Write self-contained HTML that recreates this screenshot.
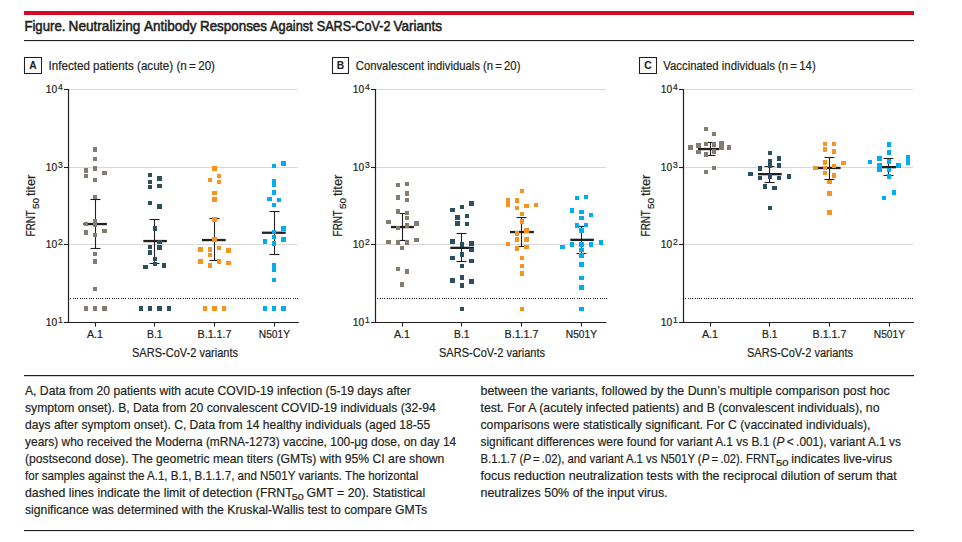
<!DOCTYPE html>
<html><head><meta charset="utf-8"><style>
html,body{margin:0;padding:0;background:#fff;}
svg{display:block;}
text{font-family:"Liberation Sans",sans-serif;fill:#231f20;stroke:#231f20;stroke-width:0.2px;}
</style></head><body>
<svg width="962" height="542" viewBox="0 0 962 542">
<rect x="24" y="11" width="890" height="4" fill="#d50b26"/>
<text x="24.4" y="30.8" font-size="14.2" font-weight="normal" text-anchor="start" textLength="41.0" lengthAdjust="spacingAndGlyphs" style="stroke-width:0.55px">Figure.</text>
<text x="68.6" y="30.8" font-size="14.2" font-weight="normal" text-anchor="start" textLength="71.8" lengthAdjust="spacingAndGlyphs" style="stroke-width:0.55px">Neutralizing</text>
<text x="144.0" y="30.8" font-size="14.2" font-weight="normal" text-anchor="start" textLength="52.4" lengthAdjust="spacingAndGlyphs" style="stroke-width:0.55px">Antibody</text>
<text x="200.0" y="30.8" font-size="14.2" font-weight="normal" text-anchor="start" textLength="67.0" lengthAdjust="spacingAndGlyphs" style="stroke-width:0.55px">Responses</text>
<text x="270.1" y="30.8" font-size="14.2" font-weight="normal" text-anchor="start" textLength="42.6" lengthAdjust="spacingAndGlyphs" style="stroke-width:0.55px">Against</text>
<text x="316.8" y="30.8" font-size="14.2" font-weight="normal" text-anchor="start" textLength="73.6" lengthAdjust="spacingAndGlyphs" style="stroke-width:0.55px">SARS-CoV-2</text>
<text x="393.4" y="30.8" font-size="14.2" font-weight="normal" text-anchor="start" textLength="48.5" lengthAdjust="spacingAndGlyphs" style="stroke-width:0.55px">Variants</text>
<rect x="24" y="40" width="890" height="1.1" fill="#231f20"/>
<rect x="24.5" y="57.5" width="17.0" height="16" fill="none" stroke="#231f20" stroke-width="1.05"/>
<text x="29.3" y="68.9" font-size="11" font-weight="bold" text-anchor="start" textLength="7.4" lengthAdjust="spacingAndGlyphs" style="stroke-width:0.1px">A</text>
<text x="48.5" y="70.3" font-size="12.5" font-weight="normal" text-anchor="start" textLength="166.5" lengthAdjust="spacingAndGlyphs">Infected patients (acute) (n = 20)</text>
<line x1="69.1" y1="89.5" x2="297.7" y2="89.5" stroke="#d9d9d9" stroke-width="1.1"/>
<line x1="69.1" y1="167.5" x2="297.7" y2="167.5" stroke="#d9d9d9" stroke-width="1.1"/>
<line x1="69.1" y1="244.5" x2="297.7" y2="244.5" stroke="#d9d9d9" stroke-width="1.1"/>
<path d="M70 298h1v1h-1zM73 298h1v1h-1zM75 298h1v1h-1zM77 298h1v1h-1zM80 298h1v1h-1zM82 298h1v1h-1zM84 298h1v1h-1zM86 298h1v1h-1zM89 298h1v1h-1zM91 298h1v1h-1zM93 298h1v1h-1zM96 298h1v1h-1zM98 298h1v1h-1zM100 298h1v1h-1zM102 298h1v1h-1zM105 298h1v1h-1zM107 298h1v1h-1zM109 298h1v1h-1zM112 298h1v1h-1zM114 298h1v1h-1zM116 298h1v1h-1zM118 298h1v1h-1zM121 298h1v1h-1zM123 298h1v1h-1zM125 298h1v1h-1zM128 298h1v1h-1zM130 298h1v1h-1zM132 298h1v1h-1zM135 298h1v1h-1zM137 298h1v1h-1zM139 298h1v1h-1zM141 298h1v1h-1zM144 298h1v1h-1zM146 298h1v1h-1zM148 298h1v1h-1zM151 298h1v1h-1zM153 298h1v1h-1zM155 298h1v1h-1zM157 298h1v1h-1zM160 298h1v1h-1zM162 298h1v1h-1zM164 298h1v1h-1zM167 298h1v1h-1zM169 298h1v1h-1zM171 298h1v1h-1zM173 298h1v1h-1zM176 298h1v1h-1zM178 298h1v1h-1zM180 298h1v1h-1zM183 298h1v1h-1zM185 298h1v1h-1zM187 298h1v1h-1zM189 298h1v1h-1zM192 298h1v1h-1zM194 298h1v1h-1zM196 298h1v1h-1zM199 298h1v1h-1zM201 298h1v1h-1zM203 298h1v1h-1zM206 298h1v1h-1zM208 298h1v1h-1zM210 298h1v1h-1zM212 298h1v1h-1zM215 298h1v1h-1zM217 298h1v1h-1zM219 298h1v1h-1zM222 298h1v1h-1zM224 298h1v1h-1zM226 298h1v1h-1zM228 298h1v1h-1zM231 298h1v1h-1zM233 298h1v1h-1zM235 298h1v1h-1zM238 298h1v1h-1zM240 298h1v1h-1zM242 298h1v1h-1zM244 298h1v1h-1zM247 298h1v1h-1zM249 298h1v1h-1zM251 298h1v1h-1zM254 298h1v1h-1zM256 298h1v1h-1zM258 298h1v1h-1zM260 298h1v1h-1zM263 298h1v1h-1zM265 298h1v1h-1zM267 298h1v1h-1zM270 298h1v1h-1zM272 298h1v1h-1zM274 298h1v1h-1zM276 298h1v1h-1zM279 298h1v1h-1zM281 298h1v1h-1zM283 298h1v1h-1zM286 298h1v1h-1zM288 298h1v1h-1zM290 298h1v1h-1zM293 298h1v1h-1zM295 298h1v1h-1zM297 298h1v1h-1z" fill="#1a1a1a"/>
<line x1="68.5" y1="89.0" x2="68.5" y2="323.1" stroke="#231f20" stroke-width="1.2"/>
<line x1="67.9" y1="322.5" x2="298.8" y2="322.5" stroke="#231f20" stroke-width="1.2"/>
<line x1="64.0" y1="89.5" x2="68.5" y2="89.5" stroke="#231f20" stroke-width="1.1"/>
<text x="45.7" y="93.2" font-size="10.5" font-weight="normal" text-anchor="start" textLength="11.4" lengthAdjust="spacingAndGlyphs">10</text>
<text x="57.9" y="90.1" font-size="9.8" font-weight="normal" text-anchor="start" textLength="4.8" lengthAdjust="spacingAndGlyphs">4</text>
<line x1="64.0" y1="167.5" x2="68.5" y2="167.5" stroke="#231f20" stroke-width="1.1"/>
<text x="45.7" y="171.2" font-size="10.5" font-weight="normal" text-anchor="start" textLength="11.4" lengthAdjust="spacingAndGlyphs">10</text>
<text x="57.9" y="168.1" font-size="9.8" font-weight="normal" text-anchor="start" textLength="4.8" lengthAdjust="spacingAndGlyphs">3</text>
<line x1="64.0" y1="244.5" x2="68.5" y2="244.5" stroke="#231f20" stroke-width="1.1"/>
<text x="45.7" y="248.2" font-size="10.5" font-weight="normal" text-anchor="start" textLength="11.4" lengthAdjust="spacingAndGlyphs">10</text>
<text x="57.9" y="245.1" font-size="9.8" font-weight="normal" text-anchor="start" textLength="4.8" lengthAdjust="spacingAndGlyphs">2</text>
<line x1="64.0" y1="322.5" x2="68.5" y2="322.5" stroke="#231f20" stroke-width="1.1"/>
<text x="45.7" y="326.2" font-size="10.5" font-weight="normal" text-anchor="start" textLength="11.4" lengthAdjust="spacingAndGlyphs">10</text>
<text x="57.9" y="323.1" font-size="9.8" font-weight="normal" text-anchor="start" textLength="4.8" lengthAdjust="spacingAndGlyphs">1</text>
<line x1="95.5" y1="322.5" x2="95.5" y2="326.6" stroke="#231f20" stroke-width="1.1"/>
<line x1="154.5" y1="322.5" x2="154.5" y2="326.6" stroke="#231f20" stroke-width="1.1"/>
<line x1="214.5" y1="322.5" x2="214.5" y2="326.6" stroke="#231f20" stroke-width="1.1"/>
<line x1="274.5" y1="322.5" x2="274.5" y2="326.6" stroke="#231f20" stroke-width="1.1"/>
<text x="132.0" y="357.0" font-size="12.5" font-weight="normal" text-anchor="start" textLength="106.0" lengthAdjust="spacingAndGlyphs">SARS-CoV-2 variants</text>
<g transform="translate(35.1,236.4) rotate(-90)"><text x="0.0" y="0.0" font-size="12.5" font-weight="normal" text-anchor="start" textLength="26.3" lengthAdjust="spacingAndGlyphs">FRNT</text><text x="27.3" y="3.5" font-size="9.2" font-weight="normal" text-anchor="start" textLength="11.2" lengthAdjust="spacingAndGlyphs">50</text><text x="40.3" y="0.0" font-size="12.5" font-weight="normal" text-anchor="start" textLength="21.5" lengthAdjust="spacingAndGlyphs">titer</text></g>
<rect x="332.5" y="57.5" width="16.0" height="16" fill="none" stroke="#231f20" stroke-width="1.05"/>
<text x="336.8" y="68.9" font-size="11" font-weight="bold" text-anchor="start" textLength="7.4" lengthAdjust="spacingAndGlyphs" style="stroke-width:0.1px">B</text>
<text x="355.8" y="70.3" font-size="12.5" font-weight="normal" text-anchor="start" textLength="164.6" lengthAdjust="spacingAndGlyphs">Convalescent individuals (n = 20)</text>
<line x1="376.1" y1="89.5" x2="606.0" y2="89.5" stroke="#d9d9d9" stroke-width="1.1"/>
<line x1="376.1" y1="167.5" x2="606.0" y2="167.5" stroke="#d9d9d9" stroke-width="1.1"/>
<line x1="376.1" y1="244.5" x2="606.0" y2="244.5" stroke="#d9d9d9" stroke-width="1.1"/>
<path d="M377 298h1v1h-1zM380 298h1v1h-1zM382 298h1v1h-1zM384 298h1v1h-1zM387 298h1v1h-1zM389 298h1v1h-1zM391 298h1v1h-1zM393 298h1v1h-1zM396 298h1v1h-1zM398 298h1v1h-1zM400 298h1v1h-1zM403 298h1v1h-1zM405 298h1v1h-1zM407 298h1v1h-1zM409 298h1v1h-1zM412 298h1v1h-1zM414 298h1v1h-1zM416 298h1v1h-1zM419 298h1v1h-1zM421 298h1v1h-1zM423 298h1v1h-1zM425 298h1v1h-1zM428 298h1v1h-1zM430 298h1v1h-1zM432 298h1v1h-1zM435 298h1v1h-1zM437 298h1v1h-1zM439 298h1v1h-1zM442 298h1v1h-1zM444 298h1v1h-1zM446 298h1v1h-1zM448 298h1v1h-1zM451 298h1v1h-1zM453 298h1v1h-1zM455 298h1v1h-1zM458 298h1v1h-1zM460 298h1v1h-1zM462 298h1v1h-1zM464 298h1v1h-1zM467 298h1v1h-1zM469 298h1v1h-1zM471 298h1v1h-1zM474 298h1v1h-1zM476 298h1v1h-1zM478 298h1v1h-1zM480 298h1v1h-1zM483 298h1v1h-1zM485 298h1v1h-1zM487 298h1v1h-1zM490 298h1v1h-1zM492 298h1v1h-1zM494 298h1v1h-1zM496 298h1v1h-1zM499 298h1v1h-1zM501 298h1v1h-1zM503 298h1v1h-1zM506 298h1v1h-1zM508 298h1v1h-1zM510 298h1v1h-1zM513 298h1v1h-1zM515 298h1v1h-1zM517 298h1v1h-1zM519 298h1v1h-1zM522 298h1v1h-1zM524 298h1v1h-1zM526 298h1v1h-1zM529 298h1v1h-1zM531 298h1v1h-1zM533 298h1v1h-1zM535 298h1v1h-1zM538 298h1v1h-1zM540 298h1v1h-1zM542 298h1v1h-1zM545 298h1v1h-1zM547 298h1v1h-1zM549 298h1v1h-1zM551 298h1v1h-1zM554 298h1v1h-1zM556 298h1v1h-1zM558 298h1v1h-1zM561 298h1v1h-1zM563 298h1v1h-1zM565 298h1v1h-1zM567 298h1v1h-1zM570 298h1v1h-1zM572 298h1v1h-1zM574 298h1v1h-1zM577 298h1v1h-1zM579 298h1v1h-1zM581 298h1v1h-1zM584 298h1v1h-1zM586 298h1v1h-1zM588 298h1v1h-1zM590 298h1v1h-1zM593 298h1v1h-1zM595 298h1v1h-1zM597 298h1v1h-1zM600 298h1v1h-1zM602 298h1v1h-1zM604 298h1v1h-1zM606 298h1v1h-1z" fill="#1a1a1a"/>
<line x1="375.5" y1="89.0" x2="375.5" y2="323.1" stroke="#231f20" stroke-width="1.2"/>
<line x1="374.9" y1="322.5" x2="606.5" y2="322.5" stroke="#231f20" stroke-width="1.2"/>
<line x1="371.0" y1="89.5" x2="375.5" y2="89.5" stroke="#231f20" stroke-width="1.1"/>
<text x="352.7" y="93.2" font-size="10.5" font-weight="normal" text-anchor="start" textLength="11.4" lengthAdjust="spacingAndGlyphs">10</text>
<text x="364.9" y="90.1" font-size="9.8" font-weight="normal" text-anchor="start" textLength="4.8" lengthAdjust="spacingAndGlyphs">4</text>
<line x1="371.0" y1="167.5" x2="375.5" y2="167.5" stroke="#231f20" stroke-width="1.1"/>
<text x="352.7" y="171.2" font-size="10.5" font-weight="normal" text-anchor="start" textLength="11.4" lengthAdjust="spacingAndGlyphs">10</text>
<text x="364.9" y="168.1" font-size="9.8" font-weight="normal" text-anchor="start" textLength="4.8" lengthAdjust="spacingAndGlyphs">3</text>
<line x1="371.0" y1="244.5" x2="375.5" y2="244.5" stroke="#231f20" stroke-width="1.1"/>
<text x="352.7" y="248.2" font-size="10.5" font-weight="normal" text-anchor="start" textLength="11.4" lengthAdjust="spacingAndGlyphs">10</text>
<text x="364.9" y="245.1" font-size="9.8" font-weight="normal" text-anchor="start" textLength="4.8" lengthAdjust="spacingAndGlyphs">2</text>
<line x1="371.0" y1="322.5" x2="375.5" y2="322.5" stroke="#231f20" stroke-width="1.1"/>
<text x="352.7" y="326.2" font-size="10.5" font-weight="normal" text-anchor="start" textLength="11.4" lengthAdjust="spacingAndGlyphs">10</text>
<text x="364.9" y="323.1" font-size="9.8" font-weight="normal" text-anchor="start" textLength="4.8" lengthAdjust="spacingAndGlyphs">1</text>
<line x1="402.5" y1="322.5" x2="402.5" y2="326.6" stroke="#231f20" stroke-width="1.1"/>
<line x1="461.5" y1="322.5" x2="461.5" y2="326.6" stroke="#231f20" stroke-width="1.1"/>
<line x1="521.5" y1="322.5" x2="521.5" y2="326.6" stroke="#231f20" stroke-width="1.1"/>
<line x1="581.5" y1="322.5" x2="581.5" y2="326.6" stroke="#231f20" stroke-width="1.1"/>
<text x="439.0" y="357.0" font-size="12.5" font-weight="normal" text-anchor="start" textLength="106.0" lengthAdjust="spacingAndGlyphs">SARS-CoV-2 variants</text>
<g transform="translate(342.1,236.4) rotate(-90)"><text x="0.0" y="0.0" font-size="12.5" font-weight="normal" text-anchor="start" textLength="26.3" lengthAdjust="spacingAndGlyphs">FRNT</text><text x="27.3" y="3.5" font-size="9.2" font-weight="normal" text-anchor="start" textLength="11.2" lengthAdjust="spacingAndGlyphs">50</text><text x="40.3" y="0.0" font-size="12.5" font-weight="normal" text-anchor="start" textLength="21.5" lengthAdjust="spacingAndGlyphs">titer</text></g>
<rect x="639.5" y="57.5" width="17.0" height="16" fill="none" stroke="#231f20" stroke-width="1.05"/>
<text x="644.3" y="68.9" font-size="11" font-weight="bold" text-anchor="start" textLength="7.4" lengthAdjust="spacingAndGlyphs" style="stroke-width:0.1px">C</text>
<text x="663.3" y="70.3" font-size="12.5" font-weight="normal" text-anchor="start" textLength="152.4" lengthAdjust="spacingAndGlyphs">Vaccinated individuals (n = 14)</text>
<line x1="684.1" y1="89.5" x2="913.0" y2="89.5" stroke="#d9d9d9" stroke-width="1.1"/>
<line x1="684.1" y1="167.5" x2="913.0" y2="167.5" stroke="#d9d9d9" stroke-width="1.1"/>
<line x1="684.1" y1="244.5" x2="913.0" y2="244.5" stroke="#d9d9d9" stroke-width="1.1"/>
<path d="M685 298h1v1h-1zM688 298h1v1h-1zM690 298h1v1h-1zM692 298h1v1h-1zM695 298h1v1h-1zM697 298h1v1h-1zM699 298h1v1h-1zM701 298h1v1h-1zM704 298h1v1h-1zM706 298h1v1h-1zM708 298h1v1h-1zM711 298h1v1h-1zM713 298h1v1h-1zM715 298h1v1h-1zM717 298h1v1h-1zM720 298h1v1h-1zM722 298h1v1h-1zM724 298h1v1h-1zM727 298h1v1h-1zM729 298h1v1h-1zM731 298h1v1h-1zM733 298h1v1h-1zM736 298h1v1h-1zM738 298h1v1h-1zM740 298h1v1h-1zM743 298h1v1h-1zM745 298h1v1h-1zM747 298h1v1h-1zM750 298h1v1h-1zM752 298h1v1h-1zM754 298h1v1h-1zM756 298h1v1h-1zM759 298h1v1h-1zM761 298h1v1h-1zM763 298h1v1h-1zM766 298h1v1h-1zM768 298h1v1h-1zM770 298h1v1h-1zM772 298h1v1h-1zM775 298h1v1h-1zM777 298h1v1h-1zM779 298h1v1h-1zM782 298h1v1h-1zM784 298h1v1h-1zM786 298h1v1h-1zM788 298h1v1h-1zM791 298h1v1h-1zM793 298h1v1h-1zM795 298h1v1h-1zM798 298h1v1h-1zM800 298h1v1h-1zM802 298h1v1h-1zM804 298h1v1h-1zM807 298h1v1h-1zM809 298h1v1h-1zM811 298h1v1h-1zM814 298h1v1h-1zM816 298h1v1h-1zM818 298h1v1h-1zM821 298h1v1h-1zM823 298h1v1h-1zM825 298h1v1h-1zM827 298h1v1h-1zM830 298h1v1h-1zM832 298h1v1h-1zM834 298h1v1h-1zM837 298h1v1h-1zM839 298h1v1h-1zM841 298h1v1h-1zM843 298h1v1h-1zM846 298h1v1h-1zM848 298h1v1h-1zM850 298h1v1h-1zM853 298h1v1h-1zM855 298h1v1h-1zM857 298h1v1h-1zM859 298h1v1h-1zM862 298h1v1h-1zM864 298h1v1h-1zM866 298h1v1h-1zM869 298h1v1h-1zM871 298h1v1h-1zM873 298h1v1h-1zM875 298h1v1h-1zM878 298h1v1h-1zM880 298h1v1h-1zM882 298h1v1h-1zM885 298h1v1h-1zM887 298h1v1h-1zM889 298h1v1h-1zM892 298h1v1h-1zM894 298h1v1h-1zM896 298h1v1h-1zM898 298h1v1h-1zM901 298h1v1h-1zM903 298h1v1h-1zM905 298h1v1h-1zM908 298h1v1h-1zM910 298h1v1h-1zM912 298h1v1h-1z" fill="#1a1a1a"/>
<line x1="683.5" y1="89.0" x2="683.5" y2="323.1" stroke="#231f20" stroke-width="1.2"/>
<line x1="682.9" y1="322.5" x2="914.0" y2="322.5" stroke="#231f20" stroke-width="1.2"/>
<line x1="679.0" y1="89.5" x2="683.5" y2="89.5" stroke="#231f20" stroke-width="1.1"/>
<text x="660.7" y="93.2" font-size="10.5" font-weight="normal" text-anchor="start" textLength="11.4" lengthAdjust="spacingAndGlyphs">10</text>
<text x="672.9" y="90.1" font-size="9.8" font-weight="normal" text-anchor="start" textLength="4.8" lengthAdjust="spacingAndGlyphs">4</text>
<line x1="679.0" y1="167.5" x2="683.5" y2="167.5" stroke="#231f20" stroke-width="1.1"/>
<text x="660.7" y="171.2" font-size="10.5" font-weight="normal" text-anchor="start" textLength="11.4" lengthAdjust="spacingAndGlyphs">10</text>
<text x="672.9" y="168.1" font-size="9.8" font-weight="normal" text-anchor="start" textLength="4.8" lengthAdjust="spacingAndGlyphs">3</text>
<line x1="679.0" y1="244.5" x2="683.5" y2="244.5" stroke="#231f20" stroke-width="1.1"/>
<text x="660.7" y="248.2" font-size="10.5" font-weight="normal" text-anchor="start" textLength="11.4" lengthAdjust="spacingAndGlyphs">10</text>
<text x="672.9" y="245.1" font-size="9.8" font-weight="normal" text-anchor="start" textLength="4.8" lengthAdjust="spacingAndGlyphs">2</text>
<line x1="679.0" y1="322.5" x2="683.5" y2="322.5" stroke="#231f20" stroke-width="1.1"/>
<text x="660.7" y="326.2" font-size="10.5" font-weight="normal" text-anchor="start" textLength="11.4" lengthAdjust="spacingAndGlyphs">10</text>
<text x="672.9" y="323.1" font-size="9.8" font-weight="normal" text-anchor="start" textLength="4.8" lengthAdjust="spacingAndGlyphs">1</text>
<line x1="710.5" y1="322.5" x2="710.5" y2="326.6" stroke="#231f20" stroke-width="1.1"/>
<line x1="769.5" y1="322.5" x2="769.5" y2="326.6" stroke="#231f20" stroke-width="1.1"/>
<line x1="829.5" y1="322.5" x2="829.5" y2="326.6" stroke="#231f20" stroke-width="1.1"/>
<line x1="889.5" y1="322.5" x2="889.5" y2="326.6" stroke="#231f20" stroke-width="1.1"/>
<text x="747.0" y="357.0" font-size="12.5" font-weight="normal" text-anchor="start" textLength="106.0" lengthAdjust="spacingAndGlyphs">SARS-CoV-2 variants</text>
<g transform="translate(650.1,236.4) rotate(-90)"><text x="0.0" y="0.0" font-size="12.5" font-weight="normal" text-anchor="start" textLength="26.3" lengthAdjust="spacingAndGlyphs">FRNT</text><text x="27.3" y="3.5" font-size="9.2" font-weight="normal" text-anchor="start" textLength="11.2" lengthAdjust="spacingAndGlyphs">50</text><text x="40.3" y="0.0" font-size="12.5" font-weight="normal" text-anchor="start" textLength="21.5" lengthAdjust="spacingAndGlyphs">titer</text></g>
<text x="87.0" y="338.0" font-size="11" font-weight="normal" text-anchor="start" textLength="16.0" lengthAdjust="spacingAndGlyphs">A.1</text>
<text x="147.0" y="338.0" font-size="11" font-weight="normal" text-anchor="start" textLength="15.5" lengthAdjust="spacingAndGlyphs">B.1</text>
<text x="197.5" y="338.0" font-size="11" font-weight="normal" text-anchor="start" textLength="34.0" lengthAdjust="spacingAndGlyphs">B.1.1.7</text>
<text x="258.8" y="338.0" font-size="11" font-weight="normal" text-anchor="start" textLength="31.2" lengthAdjust="spacingAndGlyphs">N501Y</text>
<text x="394.0" y="338.0" font-size="11" font-weight="normal" text-anchor="start" textLength="16.0" lengthAdjust="spacingAndGlyphs">A.1</text>
<text x="454.0" y="338.0" font-size="11" font-weight="normal" text-anchor="start" textLength="15.5" lengthAdjust="spacingAndGlyphs">B.1</text>
<text x="504.5" y="338.0" font-size="11" font-weight="normal" text-anchor="start" textLength="34.0" lengthAdjust="spacingAndGlyphs">B.1.1.7</text>
<text x="565.8" y="338.0" font-size="11" font-weight="normal" text-anchor="start" textLength="31.2" lengthAdjust="spacingAndGlyphs">N501Y</text>
<text x="702.0" y="338.0" font-size="11" font-weight="normal" text-anchor="start" textLength="16.0" lengthAdjust="spacingAndGlyphs">A.1</text>
<text x="762.0" y="338.0" font-size="11" font-weight="normal" text-anchor="start" textLength="15.5" lengthAdjust="spacingAndGlyphs">B.1</text>
<text x="812.5" y="338.0" font-size="11" font-weight="normal" text-anchor="start" textLength="34.0" lengthAdjust="spacingAndGlyphs">B.1.1.7</text>
<text x="873.8" y="338.0" font-size="11" font-weight="normal" text-anchor="start" textLength="31.2" lengthAdjust="spacingAndGlyphs">N501Y</text>
<line x1="95.5" y1="199.5" x2="95.5" y2="248.5" stroke="#231f20" stroke-width="1.1"/>
<line x1="90.5" y1="199.5" x2="100.5" y2="199.5" stroke="#231f20" stroke-width="1.1"/>
<line x1="90.5" y1="248.5" x2="100.5" y2="248.5" stroke="#231f20" stroke-width="1.1"/>
<rect x="83.3" y="222.9" width="23.6" height="2.3" fill="#231f20"/>
<line x1="154.5" y1="219.5" x2="154.5" y2="263.5" stroke="#231f20" stroke-width="1.1"/>
<line x1="149.5" y1="219.5" x2="159.5" y2="219.5" stroke="#231f20" stroke-width="1.1"/>
<line x1="149.5" y1="263.5" x2="159.5" y2="263.5" stroke="#231f20" stroke-width="1.1"/>
<rect x="143.3" y="239.9" width="23.6" height="2.3" fill="#231f20"/>
<line x1="214.5" y1="218.5" x2="214.5" y2="260.5" stroke="#231f20" stroke-width="1.1"/>
<line x1="209.5" y1="218.5" x2="219.5" y2="218.5" stroke="#231f20" stroke-width="1.1"/>
<line x1="209.5" y1="260.5" x2="219.5" y2="260.5" stroke="#231f20" stroke-width="1.1"/>
<rect x="202.0" y="238.9" width="23.7" height="2.3" fill="#231f20"/>
<line x1="274.5" y1="211.5" x2="274.5" y2="254.5" stroke="#231f20" stroke-width="1.1"/>
<line x1="269.5" y1="211.5" x2="279.5" y2="211.5" stroke="#231f20" stroke-width="1.1"/>
<line x1="269.5" y1="254.5" x2="279.5" y2="254.5" stroke="#231f20" stroke-width="1.1"/>
<rect x="262.0" y="231.6" width="23.7" height="2.3" fill="#231f20"/>
<line x1="402.5" y1="213.5" x2="402.5" y2="240.5" stroke="#231f20" stroke-width="1.1"/>
<line x1="397.5" y1="213.5" x2="407.5" y2="213.5" stroke="#231f20" stroke-width="1.1"/>
<line x1="397.5" y1="240.5" x2="407.5" y2="240.5" stroke="#231f20" stroke-width="1.1"/>
<rect x="391.0" y="225.9" width="22.9" height="2.3" fill="#231f20"/>
<line x1="461.5" y1="233.5" x2="461.5" y2="261.5" stroke="#231f20" stroke-width="1.1"/>
<line x1="456.5" y1="233.5" x2="466.5" y2="233.5" stroke="#231f20" stroke-width="1.1"/>
<line x1="456.5" y1="261.5" x2="466.5" y2="261.5" stroke="#231f20" stroke-width="1.1"/>
<rect x="450.3" y="246.7" width="23.6" height="2.3" fill="#231f20"/>
<line x1="521.5" y1="217.5" x2="521.5" y2="246.5" stroke="#231f20" stroke-width="1.1"/>
<line x1="516.5" y1="217.5" x2="526.5" y2="217.5" stroke="#231f20" stroke-width="1.1"/>
<line x1="516.5" y1="246.5" x2="526.5" y2="246.5" stroke="#231f20" stroke-width="1.1"/>
<rect x="510.0" y="230.9" width="23.9" height="2.3" fill="#231f20"/>
<line x1="581.5" y1="226.5" x2="581.5" y2="253.5" stroke="#231f20" stroke-width="1.1"/>
<line x1="576.5" y1="226.5" x2="586.5" y2="226.5" stroke="#231f20" stroke-width="1.1"/>
<line x1="576.5" y1="253.5" x2="586.5" y2="253.5" stroke="#231f20" stroke-width="1.1"/>
<rect x="570.3" y="238.7" width="23.6" height="2.3" fill="#231f20"/>
<line x1="710.5" y1="142.5" x2="710.5" y2="155.5" stroke="#231f20" stroke-width="1.1"/>
<line x1="705.5" y1="142.5" x2="715.5" y2="142.5" stroke="#231f20" stroke-width="1.1"/>
<line x1="705.5" y1="155.5" x2="715.5" y2="155.5" stroke="#231f20" stroke-width="1.1"/>
<rect x="698.0" y="147.9" width="21.0" height="2.3" fill="#231f20"/>
<line x1="769.5" y1="166.5" x2="769.5" y2="182.5" stroke="#231f20" stroke-width="1.1"/>
<line x1="764.5" y1="166.5" x2="774.5" y2="166.5" stroke="#231f20" stroke-width="1.1"/>
<line x1="764.5" y1="182.5" x2="774.5" y2="182.5" stroke="#231f20" stroke-width="1.1"/>
<rect x="758.0" y="173.0" width="23.7" height="2.3" fill="#231f20"/>
<line x1="829.5" y1="157.5" x2="829.5" y2="179.5" stroke="#231f20" stroke-width="1.1"/>
<line x1="824.5" y1="157.5" x2="834.5" y2="157.5" stroke="#231f20" stroke-width="1.1"/>
<line x1="824.5" y1="179.5" x2="834.5" y2="179.5" stroke="#231f20" stroke-width="1.1"/>
<rect x="818.0" y="166.8" width="22.6" height="2.3" fill="#231f20"/>
<line x1="888.5" y1="158.5" x2="888.5" y2="175.5" stroke="#231f20" stroke-width="1.1"/>
<line x1="883.5" y1="158.5" x2="893.5" y2="158.5" stroke="#231f20" stroke-width="1.1"/>
<line x1="883.5" y1="175.5" x2="893.5" y2="175.5" stroke="#231f20" stroke-width="1.1"/>
<rect x="881.7" y="166.0" width="14.3" height="2.3" fill="#231f20"/>
<rect x="93" y="147" width="4" height="5" fill="#847d6f"/>
<rect x="93" y="157" width="4" height="4" fill="#847d6f"/>
<rect x="93" y="166" width="4" height="5" fill="#847d6f"/>
<rect x="84" y="168" width="4" height="5" fill="#847d6f"/>
<rect x="84" y="174" width="4" height="4" fill="#847d6f"/>
<rect x="102" y="171" width="5" height="4" fill="#847d6f"/>
<rect x="93" y="178" width="4" height="4" fill="#847d6f"/>
<rect x="93" y="195" width="4" height="4" fill="#847d6f"/>
<rect x="84" y="222" width="4" height="4" fill="#847d6f"/>
<rect x="93" y="219" width="4" height="4" fill="#847d6f"/>
<rect x="93" y="222" width="4" height="5" fill="#847d6f"/>
<rect x="84" y="230" width="4" height="5" fill="#847d6f"/>
<rect x="102" y="229" width="5" height="4" fill="#847d6f"/>
<rect x="93" y="233" width="4" height="4" fill="#847d6f"/>
<rect x="93" y="252" width="4" height="4" fill="#847d6f"/>
<rect x="93" y="259" width="4" height="5" fill="#847d6f"/>
<rect x="93" y="287" width="4" height="4" fill="#847d6f"/>
<rect x="84" y="306" width="4" height="5" fill="#847d6f"/>
<rect x="93" y="306" width="4" height="5" fill="#847d6f"/>
<rect x="102" y="306" width="5" height="5" fill="#847d6f"/>
<rect x="148" y="173" width="4" height="4" fill="#2a4f5e"/>
<rect x="157" y="176" width="5" height="5" fill="#2a4f5e"/>
<rect x="148" y="180" width="4" height="4" fill="#2a4f5e"/>
<rect x="148" y="185" width="4" height="4" fill="#2a4f5e"/>
<rect x="157" y="184" width="5" height="4" fill="#2a4f5e"/>
<rect x="148" y="201" width="4" height="4" fill="#2a4f5e"/>
<rect x="157" y="204" width="5" height="5" fill="#2a4f5e"/>
<rect x="153" y="226" width="4" height="5" fill="#2a4f5e"/>
<rect x="157" y="240" width="5" height="4" fill="#2a4f5e"/>
<rect x="157" y="245" width="5" height="5" fill="#2a4f5e"/>
<rect x="148" y="245" width="4" height="4" fill="#2a4f5e"/>
<rect x="148" y="250" width="4" height="5" fill="#2a4f5e"/>
<rect x="153" y="257" width="4" height="4" fill="#2a4f5e"/>
<rect x="153" y="262" width="4" height="4" fill="#2a4f5e"/>
<rect x="143" y="265" width="5" height="4" fill="#2a4f5e"/>
<rect x="162" y="263" width="4" height="5" fill="#2a4f5e"/>
<rect x="139" y="306" width="4" height="5" fill="#2a4f5e"/>
<rect x="148" y="306" width="4" height="5" fill="#2a4f5e"/>
<rect x="157" y="306" width="5" height="5" fill="#2a4f5e"/>
<rect x="167" y="306" width="4" height="5" fill="#2a4f5e"/>
<rect x="212" y="166" width="5" height="5" fill="#f7941d"/>
<rect x="217" y="174" width="4" height="4" fill="#f7941d"/>
<rect x="208" y="178" width="4" height="4" fill="#f7941d"/>
<rect x="217" y="180" width="4" height="4" fill="#f7941d"/>
<rect x="212" y="191" width="5" height="4" fill="#f7941d"/>
<rect x="212" y="197" width="5" height="5" fill="#f7941d"/>
<rect x="212" y="217" width="5" height="5" fill="#f7941d"/>
<rect x="212" y="237" width="5" height="5" fill="#f7941d"/>
<rect x="198" y="247" width="5" height="5" fill="#f7941d"/>
<rect x="208" y="247" width="4" height="5" fill="#f7941d"/>
<rect x="217" y="246" width="4" height="4" fill="#f7941d"/>
<rect x="226" y="248" width="5" height="5" fill="#f7941d"/>
<rect x="208" y="253" width="4" height="4" fill="#f7941d"/>
<rect x="198" y="259" width="5" height="5" fill="#f7941d"/>
<rect x="217" y="259" width="4" height="5" fill="#f7941d"/>
<rect x="226" y="261" width="5" height="4" fill="#f7941d"/>
<rect x="208" y="263" width="4" height="5" fill="#f7941d"/>
<rect x="203" y="306" width="4" height="5" fill="#f7941d"/>
<rect x="212" y="306" width="5" height="5" fill="#f7941d"/>
<rect x="222" y="306" width="4" height="5" fill="#f7941d"/>
<rect x="272" y="164" width="4" height="4" fill="#00aeef"/>
<rect x="281" y="161" width="5" height="5" fill="#00aeef"/>
<rect x="272" y="179" width="4" height="4" fill="#00aeef"/>
<rect x="272" y="183" width="4" height="4" fill="#00aeef"/>
<rect x="272" y="190" width="4" height="5" fill="#00aeef"/>
<rect x="267" y="197" width="5" height="4" fill="#00aeef"/>
<rect x="277" y="198" width="4" height="4" fill="#00aeef"/>
<rect x="272" y="203" width="4" height="4" fill="#00aeef"/>
<rect x="281" y="226" width="5" height="5" fill="#00aeef"/>
<rect x="272" y="230" width="4" height="4" fill="#00aeef"/>
<rect x="272" y="235" width="4" height="4" fill="#00aeef"/>
<rect x="263" y="239" width="4" height="5" fill="#00aeef"/>
<rect x="281" y="237" width="5" height="5" fill="#00aeef"/>
<rect x="272" y="241" width="4" height="5" fill="#00aeef"/>
<rect x="272" y="263" width="4" height="5" fill="#00aeef"/>
<rect x="272" y="267" width="4" height="5" fill="#00aeef"/>
<rect x="272" y="278" width="4" height="4" fill="#00aeef"/>
<rect x="263" y="306" width="4" height="5" fill="#00aeef"/>
<rect x="272" y="306" width="4" height="5" fill="#00aeef"/>
<rect x="281" y="306" width="5" height="5" fill="#00aeef"/>
<rect x="396" y="183" width="4" height="4" fill="#847d6f"/>
<rect x="405" y="182" width="4" height="4" fill="#847d6f"/>
<rect x="396" y="195" width="4" height="5" fill="#847d6f"/>
<rect x="405" y="191" width="4" height="5" fill="#847d6f"/>
<rect x="405" y="198" width="4" height="4" fill="#847d6f"/>
<rect x="396" y="209" width="4" height="5" fill="#847d6f"/>
<rect x="405" y="211" width="4" height="4" fill="#847d6f"/>
<rect x="405" y="216" width="4" height="4" fill="#847d6f"/>
<rect x="386" y="220" width="5" height="4" fill="#847d6f"/>
<rect x="414" y="221" width="5" height="5" fill="#847d6f"/>
<rect x="396" y="226" width="4" height="4" fill="#847d6f"/>
<rect x="405" y="223" width="4" height="5" fill="#847d6f"/>
<rect x="386" y="240" width="5" height="4" fill="#847d6f"/>
<rect x="396" y="240" width="4" height="5" fill="#847d6f"/>
<rect x="405" y="240" width="4" height="5" fill="#847d6f"/>
<rect x="414" y="238" width="5" height="4" fill="#847d6f"/>
<rect x="400" y="246" width="4" height="4" fill="#847d6f"/>
<rect x="396" y="267" width="4" height="4" fill="#847d6f"/>
<rect x="405" y="269" width="4" height="5" fill="#847d6f"/>
<rect x="400" y="282" width="4" height="5" fill="#847d6f"/>
<rect x="469" y="201" width="5" height="5" fill="#2a4f5e"/>
<rect x="460" y="205" width="4" height="4" fill="#2a4f5e"/>
<rect x="450" y="208" width="5" height="4" fill="#2a4f5e"/>
<rect x="455" y="215" width="5" height="5" fill="#2a4f5e"/>
<rect x="465" y="214" width="4" height="4" fill="#2a4f5e"/>
<rect x="455" y="221" width="5" height="5" fill="#2a4f5e"/>
<rect x="465" y="222" width="4" height="4" fill="#2a4f5e"/>
<rect x="450" y="239" width="5" height="5" fill="#2a4f5e"/>
<rect x="460" y="242" width="4" height="5" fill="#2a4f5e"/>
<rect x="469" y="241" width="5" height="5" fill="#2a4f5e"/>
<rect x="469" y="248" width="5" height="4" fill="#2a4f5e"/>
<rect x="460" y="252" width="4" height="5" fill="#2a4f5e"/>
<rect x="450" y="256" width="5" height="4" fill="#2a4f5e"/>
<rect x="469" y="259" width="5" height="4" fill="#2a4f5e"/>
<rect x="460" y="264" width="4" height="4" fill="#2a4f5e"/>
<rect x="450" y="278" width="5" height="5" fill="#2a4f5e"/>
<rect x="460" y="275" width="4" height="5" fill="#2a4f5e"/>
<rect x="469" y="279" width="5" height="5" fill="#2a4f5e"/>
<rect x="460" y="283" width="4" height="5" fill="#2a4f5e"/>
<rect x="460" y="307" width="4" height="4" fill="#2a4f5e"/>
<rect x="520" y="189" width="4" height="4" fill="#f7941d"/>
<rect x="506" y="198" width="4" height="5" fill="#f7941d"/>
<rect x="506" y="202" width="4" height="5" fill="#f7941d"/>
<rect x="515" y="198" width="4" height="5" fill="#f7941d"/>
<rect x="524" y="204" width="5" height="4" fill="#f7941d"/>
<rect x="534" y="203" width="4" height="4" fill="#f7941d"/>
<rect x="515" y="206" width="4" height="4" fill="#f7941d"/>
<rect x="520" y="212" width="4" height="4" fill="#f7941d"/>
<rect x="520" y="219" width="4" height="5" fill="#f7941d"/>
<rect x="524" y="228" width="5" height="5" fill="#f7941d"/>
<rect x="515" y="231" width="4" height="5" fill="#f7941d"/>
<rect x="515" y="237" width="4" height="5" fill="#f7941d"/>
<rect x="524" y="237" width="5" height="5" fill="#f7941d"/>
<rect x="506" y="242" width="4" height="4" fill="#f7941d"/>
<rect x="515" y="246" width="4" height="5" fill="#f7941d"/>
<rect x="524" y="245" width="5" height="4" fill="#f7941d"/>
<rect x="520" y="256" width="4" height="4" fill="#f7941d"/>
<rect x="520" y="264" width="4" height="4" fill="#f7941d"/>
<rect x="520" y="271" width="4" height="5" fill="#f7941d"/>
<rect x="520" y="307" width="4" height="4" fill="#f7941d"/>
<rect x="575" y="196" width="4" height="4" fill="#00aeef"/>
<rect x="584" y="195" width="4" height="4" fill="#00aeef"/>
<rect x="570" y="208" width="4" height="5" fill="#00aeef"/>
<rect x="579" y="210" width="5" height="4" fill="#00aeef"/>
<rect x="589" y="213" width="4" height="4" fill="#00aeef"/>
<rect x="579" y="216" width="5" height="4" fill="#00aeef"/>
<rect x="575" y="223" width="4" height="5" fill="#00aeef"/>
<rect x="584" y="223" width="4" height="4" fill="#00aeef"/>
<rect x="579" y="228" width="5" height="5" fill="#00aeef"/>
<rect x="560" y="245" width="5" height="4" fill="#00aeef"/>
<rect x="570" y="242" width="4" height="5" fill="#00aeef"/>
<rect x="579" y="242" width="5" height="5" fill="#00aeef"/>
<rect x="589" y="242" width="4" height="5" fill="#00aeef"/>
<rect x="599" y="240" width="4" height="5" fill="#00aeef"/>
<rect x="579" y="248" width="5" height="4" fill="#00aeef"/>
<rect x="579" y="253" width="5" height="5" fill="#00aeef"/>
<rect x="579" y="262" width="5" height="5" fill="#00aeef"/>
<rect x="579" y="276" width="5" height="4" fill="#00aeef"/>
<rect x="579" y="285" width="5" height="5" fill="#00aeef"/>
<rect x="579" y="307" width="5" height="4" fill="#00aeef"/>
<rect x="704" y="127" width="4" height="4" fill="#847d6f"/>
<rect x="712" y="132" width="4" height="4" fill="#847d6f"/>
<rect x="688" y="145" width="5" height="5" fill="#847d6f"/>
<rect x="696" y="143" width="5" height="5" fill="#847d6f"/>
<rect x="696" y="150" width="5" height="4" fill="#847d6f"/>
<rect x="704" y="142" width="4" height="4" fill="#847d6f"/>
<rect x="712" y="142" width="4" height="5" fill="#847d6f"/>
<rect x="719" y="141" width="5" height="5" fill="#847d6f"/>
<rect x="719" y="146" width="5" height="4" fill="#847d6f"/>
<rect x="727" y="145" width="4" height="5" fill="#847d6f"/>
<rect x="712" y="149" width="4" height="5" fill="#847d6f"/>
<rect x="704" y="152" width="4" height="5" fill="#847d6f"/>
<rect x="712" y="166" width="4" height="4" fill="#847d6f"/>
<rect x="704" y="170" width="4" height="4" fill="#847d6f"/>
<rect x="768" y="151" width="4" height="4" fill="#2a4f5e"/>
<rect x="777" y="156" width="4" height="5" fill="#2a4f5e"/>
<rect x="768" y="159" width="4" height="5" fill="#2a4f5e"/>
<rect x="768" y="163" width="4" height="5" fill="#2a4f5e"/>
<rect x="777" y="163" width="4" height="5" fill="#2a4f5e"/>
<rect x="758" y="166" width="4" height="5" fill="#2a4f5e"/>
<rect x="748" y="172" width="5" height="4" fill="#2a4f5e"/>
<rect x="768" y="174" width="4" height="5" fill="#2a4f5e"/>
<rect x="758" y="176" width="4" height="4" fill="#2a4f5e"/>
<rect x="777" y="176" width="4" height="4" fill="#2a4f5e"/>
<rect x="787" y="174" width="4" height="5" fill="#2a4f5e"/>
<rect x="763" y="184" width="4" height="5" fill="#2a4f5e"/>
<rect x="772" y="186" width="5" height="4" fill="#2a4f5e"/>
<rect x="768" y="206" width="4" height="4" fill="#2a4f5e"/>
<rect x="823" y="142" width="4" height="4" fill="#f7941d"/>
<rect x="832" y="142" width="4" height="4" fill="#f7941d"/>
<rect x="823" y="147" width="4" height="5" fill="#f7941d"/>
<rect x="832" y="149" width="4" height="5" fill="#f7941d"/>
<rect x="823" y="160" width="4" height="5" fill="#f7941d"/>
<rect x="841" y="161" width="5" height="4" fill="#f7941d"/>
<rect x="832" y="164" width="4" height="4" fill="#f7941d"/>
<rect x="813" y="166" width="5" height="4" fill="#f7941d"/>
<rect x="823" y="166" width="4" height="4" fill="#f7941d"/>
<rect x="823" y="171" width="4" height="4" fill="#f7941d"/>
<rect x="832" y="173" width="4" height="5" fill="#f7941d"/>
<rect x="827" y="180" width="5" height="4" fill="#f7941d"/>
<rect x="827" y="191" width="5" height="5" fill="#f7941d"/>
<rect x="827" y="210" width="5" height="5" fill="#f7941d"/>
<rect x="887" y="142" width="4" height="5" fill="#00aeef"/>
<rect x="887" y="150" width="4" height="5" fill="#00aeef"/>
<rect x="877" y="156" width="5" height="5" fill="#00aeef"/>
<rect x="906" y="155" width="4" height="5" fill="#00aeef"/>
<rect x="906" y="160" width="4" height="5" fill="#00aeef"/>
<rect x="868" y="160" width="4" height="4" fill="#00aeef"/>
<rect x="887" y="159" width="4" height="5" fill="#00aeef"/>
<rect x="877" y="163" width="5" height="5" fill="#00aeef"/>
<rect x="877" y="167" width="5" height="5" fill="#00aeef"/>
<rect x="896" y="163" width="5" height="5" fill="#00aeef"/>
<rect x="887" y="168" width="4" height="4" fill="#00aeef"/>
<rect x="887" y="174" width="4" height="5" fill="#00aeef"/>
<rect x="892" y="190" width="4" height="5" fill="#00aeef"/>
<rect x="882" y="196" width="4" height="4" fill="#00aeef"/>
<rect x="24" y="375" width="890" height="1.2" fill="#231f20"/>
<rect x="24" y="530" width="890" height="1.1" fill="#231f20"/>
<text x="25.0" y="395.0" font-size="13.3" font-weight="normal" text-anchor="start" textLength="385.7" lengthAdjust="spacingAndGlyphs">A, Data from 20 patients with acute COVID-19 infection (5-19 days after</text>
<text x="25.0" y="412.0" font-size="13.3" font-weight="normal" text-anchor="start" textLength="410.8" lengthAdjust="spacingAndGlyphs">symptom onset). B, Data from 20 convalescent COVID-19 individuals (32-94</text>
<text x="25.0" y="428.9" font-size="13.3" font-weight="normal" text-anchor="start" textLength="405.2" lengthAdjust="spacingAndGlyphs">days after symptom onset). C, Data from 14 healthy individuals (aged 18-55</text>
<text x="25.0" y="445.9" font-size="13.3" font-weight="normal" text-anchor="start" textLength="431.2" lengthAdjust="spacingAndGlyphs">years) who received the Moderna (mRNA-1273) vaccine, 100-μg dose, on day 14</text>
<text x="25.0" y="462.8" font-size="13.3" font-weight="normal" text-anchor="start" textLength="419.3" lengthAdjust="spacingAndGlyphs">(postsecond dose). The geometric mean titers (GMTs) with 95% CI are shown</text>
<text x="25.0" y="479.8" font-size="13.3" font-weight="normal" text-anchor="start" textLength="393.3" lengthAdjust="spacingAndGlyphs">for samples against the A.1, B.1, B.1.1.7, and N501Y variants. The horizontal</text>
<text x="25.0" y="496.8" font-size="13.3" font-weight="normal" text-anchor="start" textLength="267.7" lengthAdjust="spacingAndGlyphs">dashed lines indicate the limit of detection (FRNT</text>
<text x="291.8" y="500.3" font-size="8.2" font-weight="normal" text-anchor="start" textLength="12.0" lengthAdjust="spacingAndGlyphs">50</text>
<text x="306.5" y="496.8" font-size="13.3" font-weight="normal" text-anchor="start" textLength="118.7" lengthAdjust="spacingAndGlyphs">GMT = 20). Statistical</text>
<text x="25.0" y="513.7" font-size="13.3" font-weight="normal" text-anchor="start" textLength="402.0" lengthAdjust="spacingAndGlyphs">significance was determined with the Kruskal-Wallis test to compare GMTs</text>
<text x="480.5" y="395.0" font-size="13.3" font-weight="normal" text-anchor="start" textLength="409.2" lengthAdjust="spacingAndGlyphs">between the variants, followed by the Dunn’s multiple comparison post hoc</text>
<text x="480.5" y="412.0" font-size="13.3" font-weight="normal" text-anchor="start" textLength="399.0" lengthAdjust="spacingAndGlyphs">test. For A (acutely infected patients) and B (convalescent individuals), no</text>
<text x="480.5" y="428.9" font-size="13.3" font-weight="normal" text-anchor="start" textLength="390.0" lengthAdjust="spacingAndGlyphs">comparisons were statistically significant. For C (vaccinated individuals),</text>
<text x="480.5" y="445.9" font-size="13.3" font-weight="normal" text-anchor="start" textLength="420.5" lengthAdjust="spacingAndGlyphs">significant differences were found for variant A.1 vs B.1 (<tspan font-style="italic">P</tspan> &lt; .001), variant A.1 vs</text>
<text x="480.5" y="462.8" font-size="13.3" font-weight="normal" text-anchor="start" textLength="295.6" lengthAdjust="spacingAndGlyphs">B.1.1.7 (<tspan font-style="italic">P</tspan> = .02), and variant A.1 vs N501Y (<tspan font-style="italic">P</tspan> = .02). FRNT</text>
<text x="775.9" y="466.3" font-size="8.2" font-weight="normal" text-anchor="start" textLength="12.6" lengthAdjust="spacingAndGlyphs">50</text>
<text x="791.2" y="462.8" font-size="13.3" font-weight="normal" text-anchor="start" textLength="100.9" lengthAdjust="spacingAndGlyphs">indicates live-virus</text>
<text x="480.5" y="479.8" font-size="13.3" font-weight="normal" text-anchor="start" textLength="416.3" lengthAdjust="spacingAndGlyphs">focus reduction neutralization tests with the reciprocal dilution of serum that</text>
<text x="480.5" y="496.8" font-size="13.3" font-weight="normal" text-anchor="start" textLength="187.1" lengthAdjust="spacingAndGlyphs">neutralizes 50% of the input virus.</text>
</svg></body></html>
